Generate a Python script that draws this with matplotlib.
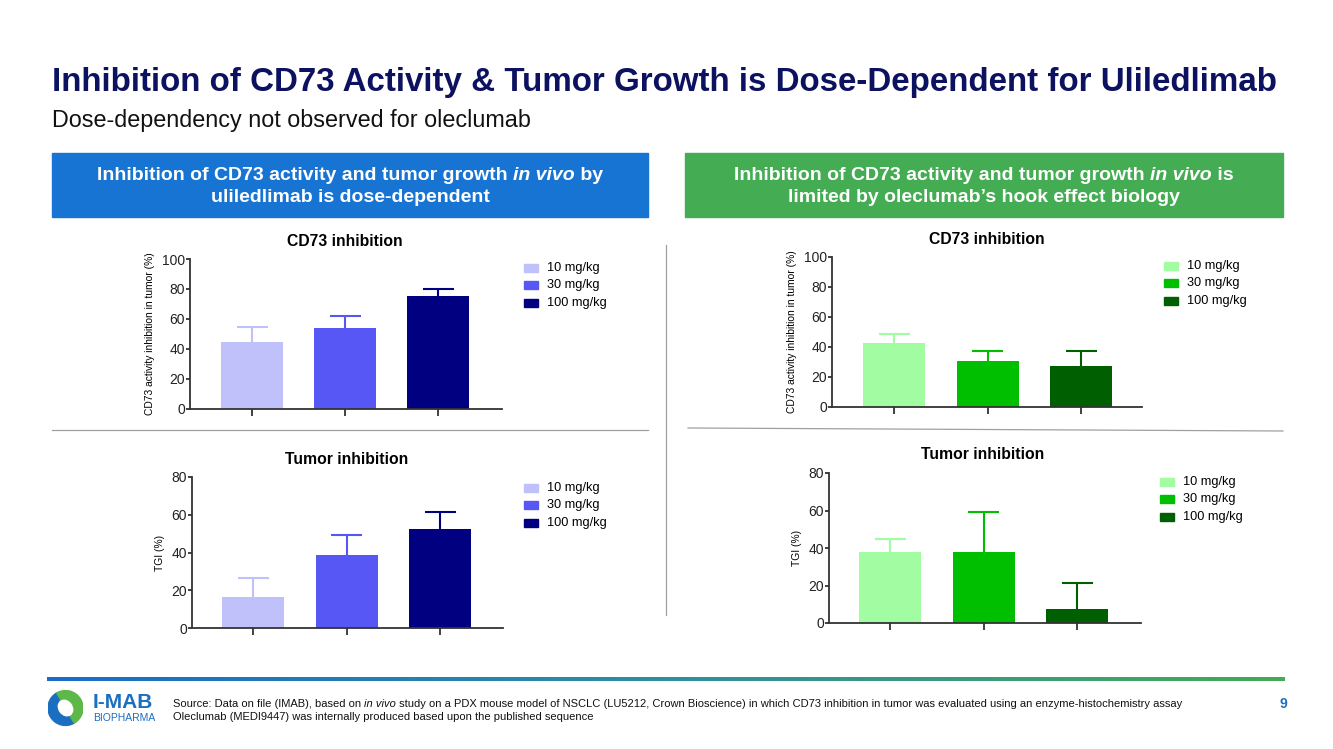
#!/usr/bin/env python3
# cd73 / tumor inhibition slide: uliledlimab vs oleclumab

import numpy as np
import matplotlib
matplotlib.use('Agg')
import matplotlib.pyplot as plt
from matplotlib.patches import Rectangle, Wedge, Ellipse
from matplotlib.colors import LinearSegmentedColormap

plt.rcParams['font.family'] = ['Liberation Sans', 'DejaVu Sans']

# data
doses = ['10 mg/kg', '30 mg/kg', '100 mg/kg']

uli_cd73 = [44.7, 53.8, 75.3]
uli_cd73_err = [9.7, 8.0, 4.5]
uli_tgi = [16.5, 38.8, 52.4]
uli_tgi_err = [10.2, 10.3, 8.9]

ole_cd73 = [42.7, 30.4, 27.3]
ole_cd73_err = [6.2, 7.2, 10.3]
ole_tgi = [38.0, 37.7, 7.6]
ole_tgi_err = [7.0, 21.3, 13.7]

blues = ['#C0C1FA', '#5757F5', '#000080']
greens = ['#A2FDA2', '#00BF00', '#005F00']

W, H = 1333, 749
fig = plt.figure(figsize=(W / 100, H / 100), dpi=100)
fig.patch.set_facecolor('white')


def fx(px):
    return px / W


def fy(py):
    return 1 - py / H


def mixed_text(y, x, parts, size, color, weight='normal', align='center'):
    # draw a line made of normal/italic pieces
    texts = []
    for s, style in parts:
        t = fig.text(0, fy(y), s, fontsize=size, color=color, weight=weight,
                     style=style, va='center', ha='left')
        texts.append(t)
    fig.canvas.draw()
    r = fig.canvas.get_renderer()
    widths = [t.get_window_extent(r).width for t in texts]
    total = sum(widths)
    start = x - total / 2 if align == 'center' else x
    for t, w in zip(texts, widths):
        t.set_x(fx(start))
        start += w


def bar_panel(ax_box, ticks_px, vals, errs, colors, ymax, ystep, title, ylabel,
              ylabel_x, leg_x, leg_y):
    left, top, right, bottom = ax_box
    ax = fig.add_axes([fx(left), fy(bottom), (right - left) / W, (bottom - top) / H])
    s = (ticks_px[2] - ticks_px[0]) / 2
    x = np.arange(len(vals))
    ax.bar(x, vals, width=62 / s, color=colors, zorder=2)
    # upper error bars only
    tops = np.array(vals) + np.array(errs)
    cap = 31 / s
    for i in range(len(vals)):
        ax.vlines(x[i], vals[i], tops[i], color=colors[i], lw=1.5, zorder=3)
        ax.hlines(tops[i], x[i] - cap / 2, x[i] + cap / 2, color=colors[i],
                  lw=1.5, zorder=3)
    ax.set_xlim((left - ticks_px[0]) / s, (right - ticks_px[0]) / s)
    ax.set_ylim(0, ymax)
    ax.set_yticks(np.arange(0, ymax + 1, ystep))
    ax.set_xticks(x)
    ax.set_xticklabels([])
    for sp in ['top', 'right']:
        ax.spines[sp].set_visible(False)
    for sp in ['left', 'bottom']:
        ax.spines[sp].set_color('#333333')
        ax.spines[sp].set_linewidth(1.3)
    ax.tick_params(axis='y', colors='#333333', length=3, width=1.3,
                   labelsize=10, labelcolor='#222222', pad=0.5)
    ax.tick_params(axis='x', colors='#333333', length=5, width=1.3)
    ax.set_facecolor('none')
    fig.text(fx(ticks_px[1]), fy(top - 18), title, fontsize=11.3, weight='bold',
             ha='center', va='center')
    fig.text(fx(ylabel_x), fy((top + bottom) / 2), ylabel, fontsize=7.4,
             rotation=90, ha='center', va='center')
    # legend squares
    for i, (lab, c) in enumerate(zip(doses, colors)):
        yy = leg_y + i * 17.3
        fig.patches.append(Rectangle((fx(leg_x), fy(yy + 4)), 14 / W, 8 / H,
                                     transform=fig.transFigure, color=c))
        fig.text(fx(leg_x + 23), fy(yy), lab, fontsize=9.2, ha='left', va='center')
    return ax


# title and subtitle
fig.text(fx(52), fy(82), 'Inhibition of CD73 Activity & Tumor Growth is Dose-Dependent for Uliledlimab',
         fontsize=23.9, weight='bold', color='#0C1260', ha='left', va='center')
fig.text(fx(52), fy(120), 'Dose-dependency not observed for oleclumab',
         fontsize=16.8, color='#111111', ha='left', va='center')

# header boxes
fig.patches.append(Rectangle((fx(52), fy(217)), 596 / W, 64 / H,
                             transform=fig.transFigure, color='#1874D3'))
fig.patches.append(Rectangle((fx(685), fy(217)), 598 / W, 64 / H,
                             transform=fig.transFigure, color='#44AC52'))
mixed_text(175, 350, [('Inhibition of CD73 activity and tumor growth ', 'normal'),
                      ('in vivo', 'italic'), (' by', 'normal')],
           14, 'white', weight='bold')
mixed_text(197, 350, [('uliledlimab is dose-dependent', 'normal')],
           14, 'white', weight='bold')
mixed_text(175, 984, [('Inhibition of CD73 activity and tumor growth ', 'normal'),
                      ('in vivo', 'italic'), (' is', 'normal')],
           14, 'white', weight='bold')
mixed_text(197, 984, [('limited by oleclumab\u2019s hook effect biology', 'normal')],
           14, 'white', weight='bold')

# dividers
fig.add_artist(plt.Line2D([fx(666), fx(666)], [fy(245), fy(615)],
                          color='#A0A0A0', lw=0.9))
fig.add_artist(plt.Line2D([fx(52), fx(648)], [fy(430), fy(430)],
                          color='#A0A0A0', lw=0.9))
fig.add_artist(plt.Line2D([fx(688), fx(1283)], [fy(428), fy(431)],
                          color='#A0A0A0', lw=0.9))

ylab_cd73 = 'CD73 activity inhibition in tumor (%)'
bar_panel((190, 259, 502, 409), (252, 345, 438), uli_cd73, uli_cd73_err, blues,
          100, 20, 'CD73 inhibition', ylab_cd73, 150, 524, 268)
bar_panel((192, 477, 503, 628), (253, 347, 440), uli_tgi, uli_tgi_err, blues,
          80, 20, 'Tumor inhibition', 'TGI (%)', 160, 524, 488)
bar_panel((832, 257, 1142, 407), (894, 987, 1081), ole_cd73, ole_cd73_err, greens,
          100, 20, 'CD73 inhibition', ylab_cd73, 792, 1164, 266)
bar_panel((829, 473, 1141, 623), (890, 983, 1077), ole_tgi, ole_tgi_err, greens,
          80, 20, 'Tumor inhibition', 'TGI (%)', 797, 1160, 482)

# footer gradient rule
gax = fig.add_axes([fx(47), fy(681), (1285 - 47) / W, 4 / H])
cmap = LinearSegmentedColormap.from_list('rule', ['#1A6CC8', '#2F8EA0', '#44AA55'])
gax.imshow(np.linspace(0, 1, 256)[None, :], aspect='auto', cmap=cmap)
gax.axis('off')

# logo (rough)
lax = fig.add_axes([fx(48), fy(727), 35 / W, 38 / H])
lax.set_xlim(-1, 1)
lax.set_ylim(-1.09, 1.09)
lax.axis('off')
lax.add_patch(Wedge((0, 0), 1.0, 120, 300, width=0.6, color='#1B6FC0'))
lax.add_patch(Wedge((0, 0), 1.0, -60, 120, width=0.6, color='#5DB848'))
lax.add_patch(Ellipse((0, 0), 0.75, 0.95, angle=35, color='white'))
fig.text(fx(93), fy(703), 'I-MAB', fontsize=15, weight='bold', color='#1B6FC0',
         ha='left', va='center')
fig.text(fx(93), fy(718), 'BIOPHARMA', fontsize=7.5, color='#1B6FC0',
         ha='left', va='center')

# source notes
mixed_text(704, 173, [('Source: Data on file (IMAB), based on ', 'normal'), ('in vivo', 'italic'),
                      (' study on a PDX mouse model of NSCLC (LU5212, Crown Bioscience) in which '
                       'CD73 inhibition in tumor was evaluated using an enzyme-histochemistry assay',
                       'normal')],
           8, '#111111', align='left')
fig.text(fx(173), fy(717), 'Oleclumab (MEDI9447) was internally produced based upon the published sequence',
         fontsize=8, color='#111111', ha='left', va='center')
fig.text(fx(1283), fy(704), '9', fontsize=10, weight='bold', color='#1B6FC0',
         ha='center', va='center')

fig.savefig('out.png', dpi=100)
print('done: out.png')
